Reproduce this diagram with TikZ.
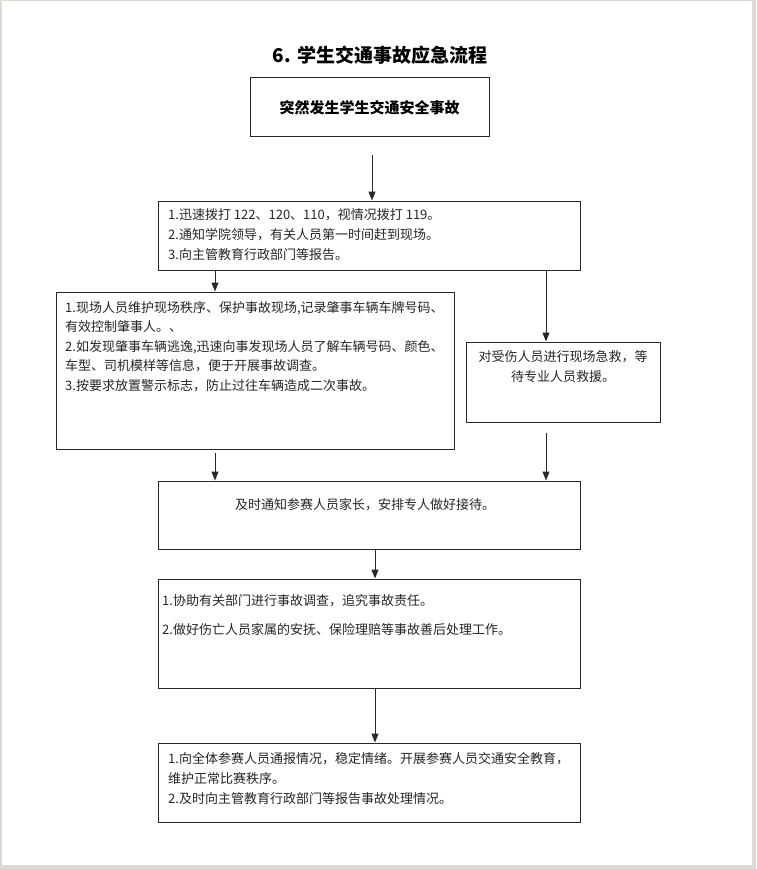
\documentclass[tikz,border=0pt]{standalone}
\usepackage{fontspec}
\newfontfamily\cjk{Noto Sans CJK SC}
\usetikzlibrary{arrows.meta}
\definecolor{pagegray}{RGB}{222,219,210}
\definecolor{linegray}{RGB}{40,40,40}
\tikzset{
  box/.style={draw=linegray,line width=1pt,rectangle,inner sep=0pt},
  txt/.style={font=\cjk\fontsize{13}{20}\selectfont,align=left,inner sep=0pt,text=black!85},
  flow/.style={draw=linegray,line width=1pt,-{Triangle[width=7pt,length=9pt]}}
}
\begin{document}
\begin{tikzpicture}[x=1pt,y=-1pt]
  % page
  \fill[pagegray] (0,0) rectangle (756,869);
  \fill[white] (1.5,1.5) rectangle (752,865);
  \useasboundingbox (0,0) rectangle (756,869);

  \node[font=\cjk\bfseries\fontsize{19}{22}\selectfont] (title) at (380,55) {6. 学生交通事故应急流程};

  % boxes
  \node[box,minimum width=239pt,minimum height=59pt] (start) at (369.5,107.5) {};
  \node[box,minimum width=422pt,minimum height=69pt] (report) at (369,235.5) {};
  \node[box,minimum width=398pt,minimum height=157pt] (scene) at (255,370.5) {};
  \node[box,minimum width=194pt,minimum height=80pt] (aid) at (563,382) {};
  \node[box,minimum width=422pt,minimum height=68pt] (notify) at (369,515) {};
  \node[box,minimum width=422pt,minimum height=109pt] (handle) at (369,633.5) {};
  \node[box,minimum width=422pt,minimum height=79pt] (inform) at (369,782.5) {};

  % texts
  \node[font=\cjk\bfseries\fontsize{15}{18}\selectfont] (start-t) at (start) {突然发生学生交通安全事故};
  \node[txt,anchor=north west] (report-t) at (168,208.5) {1.迅速拨打 122、120、110，视情况拨打 119。\\
    2.通知学院领导，有关人员第一时间赶到现场。\\
    3.向主管教育行政部门等报告。};
  \node[txt,anchor=north west,font=\cjk\fontsize{13}{19.5}\selectfont] (scene-t) at (65,301) {1.现场人员维护现场秩序、保护事故现场,记录肇事车辆车牌号码、\\
    有效控制肇事人。、\\
    2.如发现肇事车辆逃逸,迅速向事发现场人员了解车辆号码、颜色、\\
    车型、司机模样等信息，便于开展事故调查。\\
    3.按要求放置警示标志，防止过往车辆造成二次事故。};
  \node[txt,anchor=north,align=center] (aid-t) at (563,350.5) {对受伤人员进行现场急救，等\\ 待专业人员救援。};
  \node[txt,anchor=north,align=center] (notify-t) at (365,498.5) {及时通知参赛人员家长，安排专人做好接待。};
  \node[txt,anchor=north west] (handle-t) at (162,594.5) {1.协助有关部门进行事故调查，追究事故责任。\\[9pt]
    2.做好伤亡人员家属的安抚、保险理赔等事故善后处理工作。};
  \node[txt,anchor=north west] (inform-t) at (168,752.5) {1.向全体参赛人员通报情况，稳定情绪。开展参赛人员交通安全教育，\\
    维护正常比赛秩序。\\
    2.及时向主管教育行政部门等报告事故处理情况。};

  % arrows
  \draw[flow,shorten <=18pt] ([xshift=2.5pt]start.south) -- ([xshift=2.5pt]start.south |- report.north);
  \draw[flow] ([xshift=-154pt]report.south) -- ([xshift=-154pt]report.south |- scene.north);
  \draw[flow] ([xshift=177pt]report.south) -- ([xshift=177pt]report.south |- aid.north);
  \draw[flow,shorten <=3pt] ([xshift=-40pt]scene.south) -- ([xshift=-40pt]scene.south |- notify.north);
  \draw[flow,shorten <=10pt] ([xshift=-17pt]aid.south) -- ([xshift=-17pt]aid.south |- notify.north);
  \foreach \from/\to in {notify/handle,handle/inform}
    \draw[flow] ([xshift=6pt]\from.south) -- ([xshift=6pt]\to.north);
\end{tikzpicture}
\end{document}
